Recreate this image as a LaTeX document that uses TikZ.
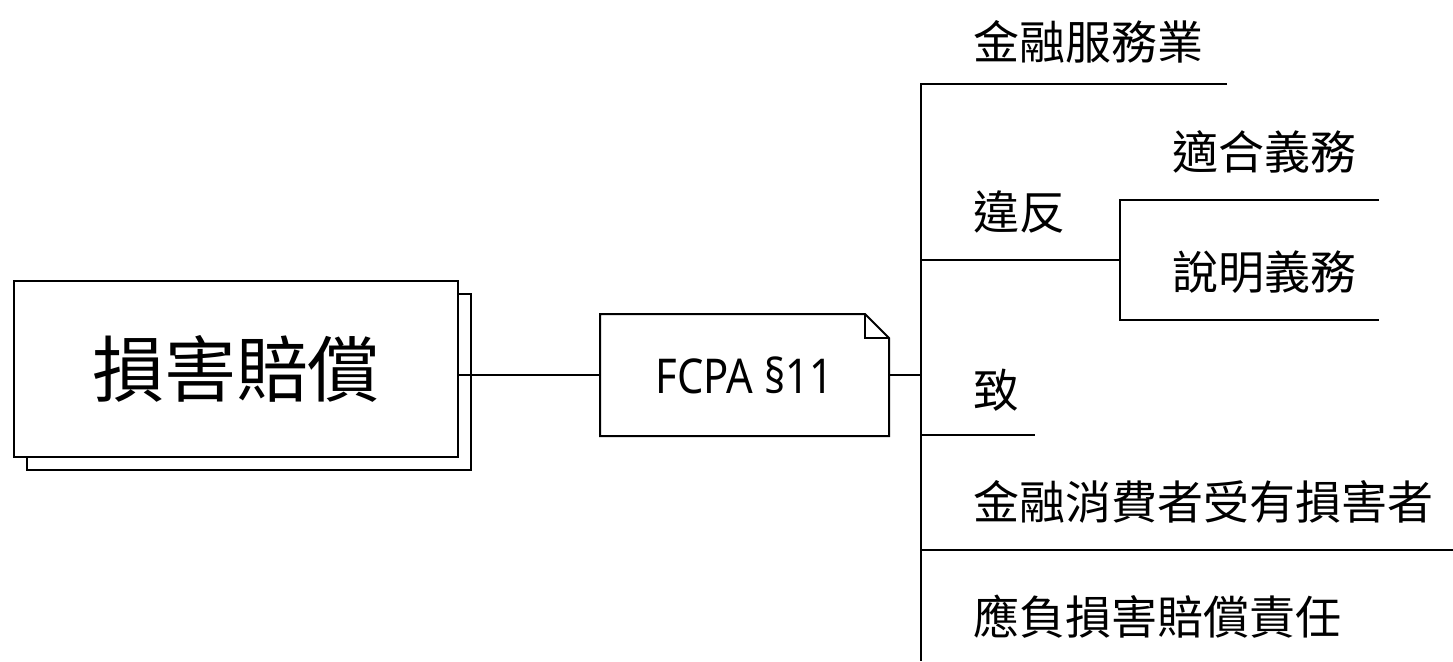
\documentclass[tikz,border=0pt]{standalone}
\usepackage{fontspec}
\setmainfont{Noto Sans CJK TC}
\newfontfamily\latinlight[FakeStretch=0.87]{Noto Sans}
\usetikzlibrary{shadows}
\begin{document}
\begin{tikzpicture}[x=0.5pt,y=-0.5pt,
  line width=1pt,
  ln/.style={draw=black, line width=1pt},
  mainbox/.style={draw=black, fill=white, line width=1pt, minimum width=222pt, minimum height=88pt, inner sep=0pt,
    copy shadow={shadow xshift=6.5pt, shadow yshift=-6.5pt, draw=black, fill=white, line width=1pt},
    font=\fontsize{36}{40}\selectfont},
  notebox/.style={minimum width=143.5pt, minimum height=60pt, inner sep=0pt, font=\latinlight\fontsize{24}{28}\selectfont},
  lbl/.style={anchor=west, inner sep=0pt, font=\fontsize{23}{26}\selectfont}
]
\useasboundingbox (0,0) rectangle (1453,661);

% main box
\node[mainbox] (main) at (236,369) {損害賠償};

% FCPA note
\node[notebox] (fcpa) at (744.5,375) {FCPA §11};
\draw[ln, line join=miter] (fcpa.south west) -- (fcpa.north west) -- ([xshift=-12pt]fcpa.north east)
  -- ([yshift=-12pt]fcpa.north east) -- (fcpa.south east) -- cycle;
\draw[ln, line join=miter] ([xshift=-12pt]fcpa.north east) -- ([xshift=-12pt,yshift=-12pt]fcpa.north east)
  -- ([yshift=-12pt]fcpa.north east);

\draw[ln] (main.east |- fcpa.west) -- (fcpa.west);

% trunk coordinates
\coordinate (tTop) at (921,84);
\coordinate (tBot) at (921,661);
\coordinate (tMid) at (921,375);
\coordinate (j2) at (921,260);
\coordinate (j3) at (921,435);
\coordinate (j4) at (921,550);
\coordinate (e1) at (1227,84);
\coordinate (sub) at (1120,260);
\coordinate (subTop) at (1120,200);
\coordinate (subBot) at (1120,320);
\coordinate (e2a) at (1379,200);
\coordinate (e2b) at (1379,320);
\coordinate (e3) at (1035,435);
\coordinate (e4) at (1453,550);

\draw[ln] (fcpa.east) -- (tMid);
\draw[ln] (e1) -- (tTop) -- (tBot);
\draw[ln] (j2) -- (sub);
\draw[ln] (e2a) -- (subTop) -- (subBot) -- (e2b);
\draw[ln] (j3) -- (e3);
\draw[ln] (j4) -- (e4);

% labels
\node[lbl] (l1) at (972,42) {金融服務業};
\node[lbl] (l2) at (972,212) {違反};
\node[lbl] (l2a) at (1171,152) {適合義務};
\node[lbl] (l2b) at (1171,272) {說明義務};
\node[lbl] (l3) at (972,390) {致};
\node[lbl] (l4) at (972,502) {金融消費者受有損害者};
\node[lbl] (l5) at (972,617) {應負損害賠償責任};
\end{tikzpicture}
\end{document}
